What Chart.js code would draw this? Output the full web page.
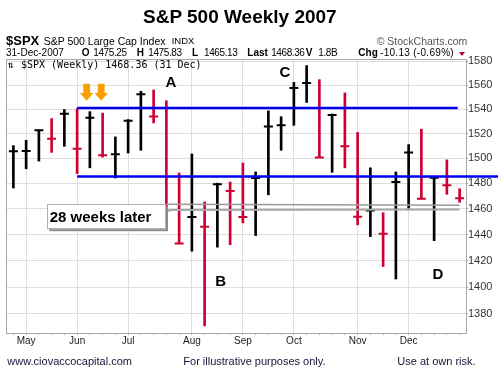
<!DOCTYPE html>
<html>
<head>
<meta charset="utf-8">
<script src="https://cdn.jsdelivr.net/npm/chart.js@4/dist/chart.umd.min.js"></script>
<style>
  html,body{margin:0;padding:0;background:#fff;}
  #wrap{position:relative;width:498px;height:379px;overflow:hidden;background:#fff;}
  #c{position:absolute;left:0;top:0;}
  .t{position:absolute;line-height:1;white-space:nowrap;font-family:"Liberation Sans",Arial,sans-serif;color:#000;z-index:2;}
  .b{font-weight:bold;}
  .n{font-size:10px;letter-spacing:-0.4px;top:48.2px;}
</style>
</head>
<body>
<div id="wrap">
  <canvas id="c" width="498" height="379"></canvas>
  <div class="t b" style="left:143px;top:7.4px;font-size:19px;">S&amp;P 500 Weekly 2007</div>
  <div class="t b" style="left:6px;top:34.3px;font-size:13px;">$SPX</div>
  <div class="t" style="left:43.7px;top:35.6px;font-size:10.5px;">S&amp;P 500 Large Cap Index</div>
  <div class="t" style="left:171.7px;top:36.2px;font-size:9.5px;">INDX</div>
  <div class="t" style="left:376.7px;top:35.6px;font-size:10.5px;color:#555;">© StockCharts.com</div>
  <div class="t" style="left:6px;top:48.2px;font-size:10px;">31-Dec-2007</div>
  <div class="t b" style="left:81.7px;top:48.2px;font-size:10px;">O</div>
  <div class="t n" style="left:93.3px;">1475.25</div>
  <div class="t b" style="left:136.7px;top:48.2px;font-size:10px;">H</div>
  <div class="t n" style="left:148.3px;">1475.83</div>
  <div class="t b" style="left:192px;top:48.2px;font-size:10px;">L</div>
  <div class="t n" style="left:204px;">1465.13</div>
  <div class="t b" style="left:247.3px;top:48.2px;font-size:10px;">Last</div>
  <div class="t n" style="left:271.2px;">1468.36</div>
  <div class="t b" style="left:305.7px;top:48.2px;font-size:10px;">V</div>
  <div class="t n" style="left:318.3px;">1.8B</div>
  <div class="t b" style="left:358.3px;top:48.2px;font-size:10px;">Chg</div>
  <div class="t n" style="left:380px;letter-spacing:0.3px;">-10.13 (-0.69%)</div>
  <div style="position:absolute;left:459px;top:52px;width:0;height:0;border-left:3px solid transparent;border-right:3px solid transparent;border-top:4px solid #b8002e;z-index:2;"></div>
  <div class="t" style="left:8px;top:59.8px;font-size:10px;font-family:'DejaVu Sans Mono',monospace;">⇅</div>
  <div class="t" style="left:21px;top:59.8px;font-size:10px;font-family:'DejaVu Sans Mono',monospace;">$SPX (Weekly) 1468.36 (31 Dec)</div>
  <div class="t" style="left:7.3px;top:355.7px;font-size:11px;color:#14143a;">www.ciovaccocapital.com</div>
  <div class="t" style="left:183.3px;top:355.7px;font-size:11px;color:#14143a;">For illustrative purposes only.</div>
  <div class="t" style="left:397.3px;top:355.7px;font-size:11px;color:#14143a;">Use at own risk.</div>
</div>
<script>
// ---- data (weekly bars, S&P 500, 2007) ----
const weeks = ['Apr 30','May 7','May 14','May 21','May 29','Jun 4','Jun 11','Jun 18','Jun 25','Jul 2','Jul 9','Jul 16','Jul 23','Jul 30','Aug 6','Aug 13','Aug 20','Aug 27','Sep 4','Sep 10','Sep 17','Sep 24','Oct 1','Oct 8','Oct 15','Oct 22','Oct 29','Nov 5','Nov 12','Nov 19','Nov 26','Dec 3','Dec 10','Dec 17','Dec 24','Dec 31'];
const highs = [1510.2,1514.6,1523.0,1532.3,1539.7,1540.5,1538.0,1536.8,1517.3,1531.5,1554.9,1556.0,1547.0,1488.3,1503.5,1465.4,1480.2,1481.1,1496.2,1489.1,1538.6,1533.8,1562.3,1576.4,1564.6,1536.1,1553.5,1521.0,1492.4,1456.9,1489.1,1511.1,1523.6,1484.6,1498.8,1475.8];
const lows  = [1476.3,1491.6,1497.8,1504.8,1509.7,1487.8,1492.4,1501.0,1484.3,1504.3,1506.5,1528.7,1458.9,1433.1,1427.2,1371.2,1430.3,1432.2,1449.0,1439.2,1471.0,1506.5,1526.8,1545.6,1500.6,1488.8,1492.4,1447.5,1438.4,1415.5,1406.1,1460.5,1467.8,1435.3,1471.4,1465.1];
const closes= [1505.62,1505.85,1522.75,1515.73,1536.34,1507.67,1532.91,1502.56,1503.35,1530.44,1552.50,1534.10,1458.95,1433.06,1453.64,1445.94,1479.37,1473.99,1453.55,1484.25,1525.75,1526.75,1557.59,1561.80,1500.63,1535.28,1509.65,1453.70,1458.74,1440.70,1481.14,1504.66,1467.95,1484.46,1478.49,1468.36];
const monthLabels = ['May','Jun','Jul','Aug','Sep','Oct','Nov','Dec'];
const monthStartWeeks = ['May 7','Jun 4','Jul 2','Aug 6','Sep 4','Oct 1','Nov 5','Dec 3'];
const yTicks = [1380,1400,1420,1440,1460,1480,1500,1520,1540,1560,1580];

// ---- annotations (values) ----
const blueLevels = [1541.0, 1485.5];
const grayLevels = [1463.6, 1459.0];
const arrowWeeks = [5.75, 6.89];
const arrowTipValue = 1547.0;
const letters = [
  {t:'A', w:12.36, v:1562.9},
  {t:'B', w:16.25, v:1404.6},
  {t:'C', w:21.30, v:1571.0},
  {t:'D', w:33.30, v:1410.1}
];
const calloutText = '28 weeks later';

const UP = '#000000', DOWN = '#cc0033';
const colors = closes.map((c,i) => (i === 0 || c >= closes[i-1]) ? UP : DOWN);

const overlay = {
  id: 'overlay',
  beforeDatasetsDraw(chart) {
    const {ctx, chartArea: a} = chart;
    ctx.save();
    ctx.strokeStyle = '#a9a9a9';
    ctx.lineWidth = 1;
    ctx.strokeRect(a.left - 0.5, a.top + 0.5, a.right - a.left + 1, a.bottom - a.top);
    ctx.restore();
  },
  afterDatasetsDraw(chart) {
    const {ctx, scales: {x, y}} = chart;
    const xAt = w => x.getPixelForValue(w);
    ctx.save();
    // blue horizontal levels
    ctx.strokeStyle = '#0000ee';
    ctx.lineWidth = 2.5;
    const x0 = xAt(5);
    ctx.beginPath();
    ctx.moveTo(x0, y.getPixelForValue(blueLevels[0]));
    ctx.lineTo(xAt(34.85), y.getPixelForValue(blueLevels[0]));
    ctx.stroke();
    ctx.beginPath();
    ctx.moveTo(x0, y.getPixelForValue(blueLevels[1]));
    ctx.lineTo(chart.width, y.getPixelForValue(blueLevels[1]));
    ctx.stroke();

    // grey callout
    const gTop = y.getPixelForValue(grayLevels[0]);
    const gBot = y.getPixelForValue(grayLevels[1]);
    const bxL = xAt(2.66), bxR = xAt(11.97);
    const gEnd = xAt(35);
    ctx.strokeStyle = '#9a9a9a';
    ctx.lineWidth = 1.5;
    ctx.beginPath(); ctx.moveTo(bxR, gTop); ctx.lineTo(gEnd, gTop + 1); ctx.stroke();
    ctx.strokeStyle = '#a8a8a8';
    ctx.lineWidth = 2;
    ctx.beginPath(); ctx.moveTo(bxR, gBot); ctx.lineTo(gEnd, gBot - 0.5); ctx.stroke();
    const bh = 25;
    ctx.fillStyle = '#8c8c8c';
    ctx.fillRect(bxL + 2, gTop + 2, bxR - bxL, bh);
    ctx.fillStyle = '#ffffff';
    ctx.fillRect(bxL, gTop, bxR - bxL, bh);
    ctx.strokeStyle = '#b0b0b0';
    ctx.lineWidth = 1;
    ctx.strokeRect(Math.round(bxL) + 0.5, Math.round(gTop) + 0.5, Math.round(bxR - bxL) - 1, bh - 1);
    ctx.fillStyle = '#000';
    ctx.font = 'bold 15px "Liberation Sans", Arial, sans-serif';
    ctx.textAlign = 'left';
    ctx.textBaseline = 'alphabetic';
    ctx.fillText(calloutText, bxL + 2.4, gTop + 17.4);

    // orange arrows
    ctx.fillStyle = '#f7a000';
    const ty = y.getPixelForValue(arrowTipValue);
    arrowWeeks.forEach(w => {
      const cx = xAt(w);
      ctx.beginPath();
      ctx.moveTo(cx - 3.4, ty - 17);
      ctx.lineTo(cx + 3.4, ty - 17);
      ctx.lineTo(cx + 3.4, ty - 7.7);
      ctx.lineTo(cx + 6.7, ty - 7.7);
      ctx.lineTo(cx, ty);
      ctx.lineTo(cx - 6.7, ty - 7.7);
      ctx.lineTo(cx - 3.4, ty - 7.7);
      ctx.closePath();
      ctx.fill();
    });

    // letters
    ctx.fillStyle = '#000';
    ctx.font = 'bold 15px "Liberation Sans", Arial, sans-serif';
    ctx.textAlign = 'center';
    letters.forEach(l => {
      ctx.fillText(l.t, xAt(l.w), y.getPixelForValue(l.v) + 5.3);
    });
    ctx.restore();
  }
};

new Chart(document.getElementById('c'), {
  type: 'bar',
  data: {
    labels: weeks,
    datasets: [
      {
        type: 'line',
        label: 'Close',
        data: closes,
        showLine: false,
        pointStyle: 'line',
        pointRadius: 4.5,
        pointHoverRadius: 4.5,
        pointBorderWidth: 2,
        pointBorderColor: colors,
        pointBackgroundColor: colors,
        order: 0
      },
      {
        type: 'bar',
        label: 'High-Low',
        data: weeks.map((w,i) => [lows[i], highs[i]]),
        backgroundColor: colors,
        borderWidth: 0,
        barThickness: 2,
        order: 1
      }
    ]
  },
  options: {
    responsive: false,
    devicePixelRatio: 1,
    animation: false,
    layout: { padding: { top: 59, left: 7, right: 0, bottom: 0 } },
    plugins: { legend: { display: false }, tooltip: { enabled: false } },
    scales: {
      x: {
        type: 'category',
        offset: true,
        grid: {
          offset: false,
          color: ctx => monthStartWeeks.includes(weeks[ctx.index]) ? '#dddddd' : 'rgba(0,0,0,0)',
          tickColor: '#aaaaaa',
          tickLength: 2
        },
        border: { display: false },
        ticks: {
          autoSkip: false,
          maxRotation: 0,
          padding: 0,
          color: '#222',
          font: { family: '"Liberation Sans", Arial, sans-serif', size: 10 },
          callback: function(v, i) {
            const k = monthStartWeeks.indexOf(weeks[i]);
            return k >= 0 ? monthLabels[k] : '';
          }
        },
        afterFit: s => { s.height = 46; }
      },
      y: {
        type: 'logarithmic',
        position: 'right',
        min: 1366.0,
        max: 1582.0,
        grid: { color: '#dddddd', tickColor: '#999999', tickLength: 2 },
        border: { display: false },
        ticks: {
          padding: 0,
          color: '#333',
          font: { family: '"Liberation Sans", Arial, sans-serif', size: 11 },
          callback: v => String(v)
        },
        afterBuildTicks: s => { s.ticks = yTicks.map(v => ({ value: v })); },
        afterFit: s => { s.width = 32; }
      }
    }
  },
  plugins: [overlay]
});
</script>
</body>
</html>
